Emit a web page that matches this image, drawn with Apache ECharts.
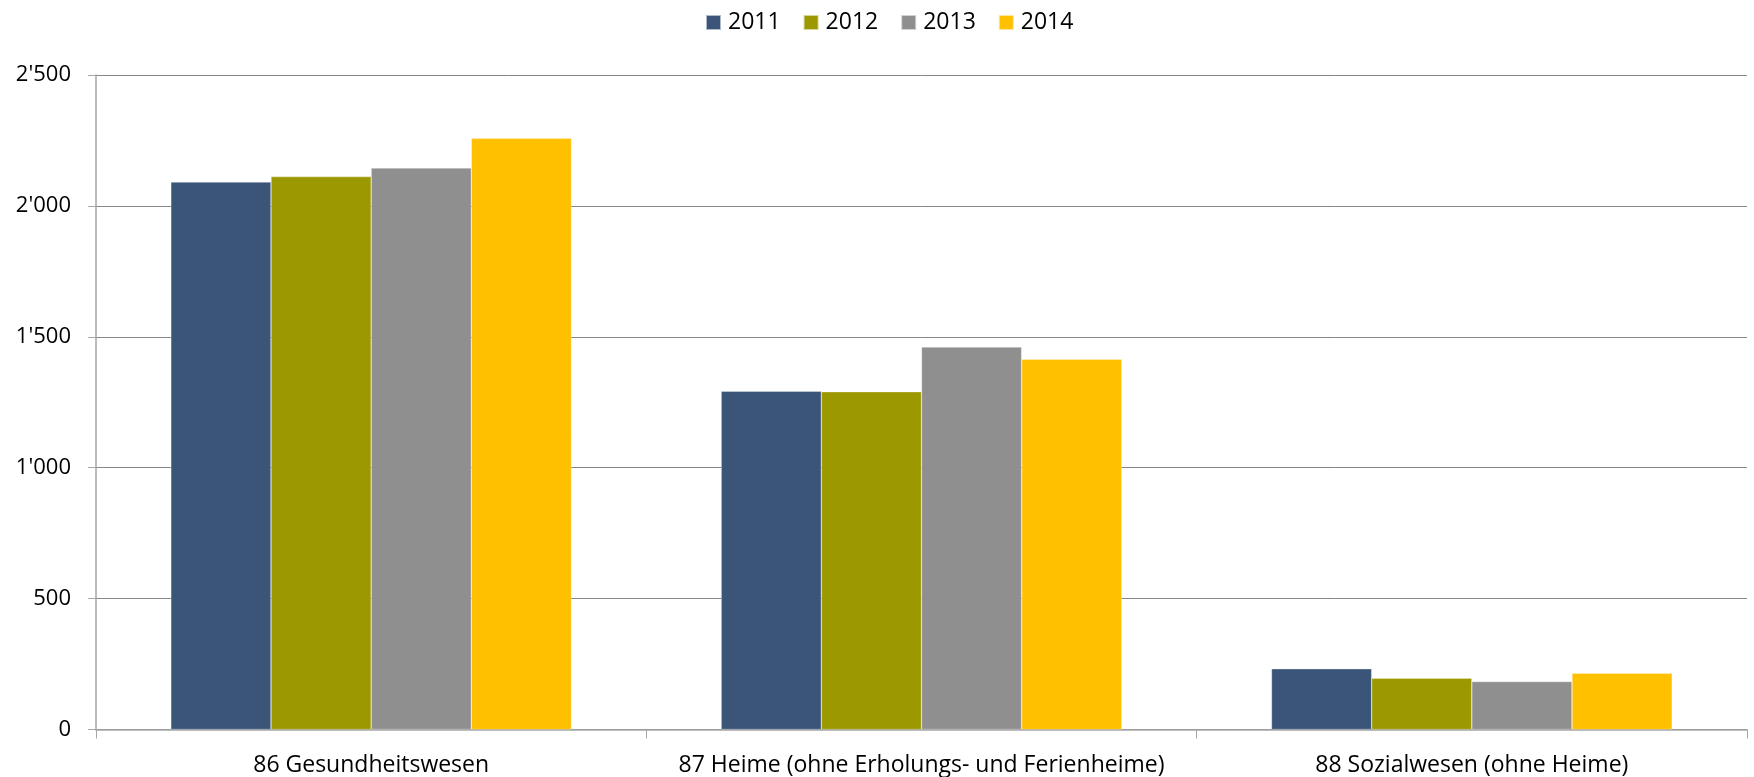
<!DOCTYPE html>
<html><head><meta charset="utf-8">
<script src="https://cdn.jsdelivr.net/npm/echarts@6/dist/echarts.min.js"></script>
<style>html,body{margin:0;padding:0;background:#fff}#c{width:1754px;height:777px}</style>
</head><body><div id="c"></div>
<script>
const categories = ['86 Gesundheitswesen', '87 Heime (ohne Erholungs- und Ferienheime)', '88 Sozialwesen (ohne Heime)'];
const years = ['2011', '2012', '2013', '2014'];
const v2011 = [2091, 1292, 232];
const v2012 = [2112, 1290, 196];
const v2013 = [2145, 1461, 183];
const v2014 = [2258, 1414, 215];
const yTicks = [0, 500, 1000, 1500, 2000, 2500];
const colors = ['#3B5579', '#9C9900', '#8F8F8F', '#FFC000'];
const values = [v2011, v2012, v2013, v2014];
const font = '"Open Sans", sans-serif';
const chart = echarts.init(document.getElementById('c'), null, {renderer: 'canvas'});
chart.setOption({
  animation: false,
  color: colors,
  textStyle: {fontFamily: font, color: '#000'},
  legend: {
    top: 6, left: 700, itemWidth: 15, itemHeight: 15, itemGap: 22,
    icon: 'rect',
    textStyle: {fontFamily: font, fontSize: 23, color: '#000', padding: [0, 0, 0, 2]},
    data: years
  },
  grid: {left: 96, right: 7, top: 75, bottom: 47.5, containLabel: false},
  xAxis: {
    type: 'category', data: categories,
    axisLine: {lineStyle: {color: '#A6A6A6', width: 1.5}},
    axisTick: {show: true, length: 9, lineStyle: {color: '#A6A6A6'}},
    axisLabel: {fontFamily: font, fontSize: 23, color: '#000', margin: 24, interval: 0, hideOverlap: false}
  },
  yAxis: {
    type: 'value', min: yTicks[0], max: yTicks[yTicks.length - 1], interval: 500,
    axisLine: {show: true, lineStyle: {color: '#A6A6A6', width: 1.5}},
    axisTick: {show: true, length: 8, lineStyle: {color: '#A6A6A6'}},
    splitLine: {lineStyle: {color: '#868686', width: 1}},
    axisLabel: {
      fontFamily: font, fontSize: 22, color: '#000', margin: 25,
      formatter: v => String(v).replace(/\B(?=(\d{3})+(?!\d))/g, "'")
    }
  },
  series: years.map((y, i) => ({
    name: y, type: 'bar', data: values[i],
    barWidth: '18.2%', barGap: '0%',
    itemStyle: {color: colors[i], borderColor: 'rgba(255,255,255,0.6)', borderWidth: 0.5}
  }))
});
</script></body></html>
